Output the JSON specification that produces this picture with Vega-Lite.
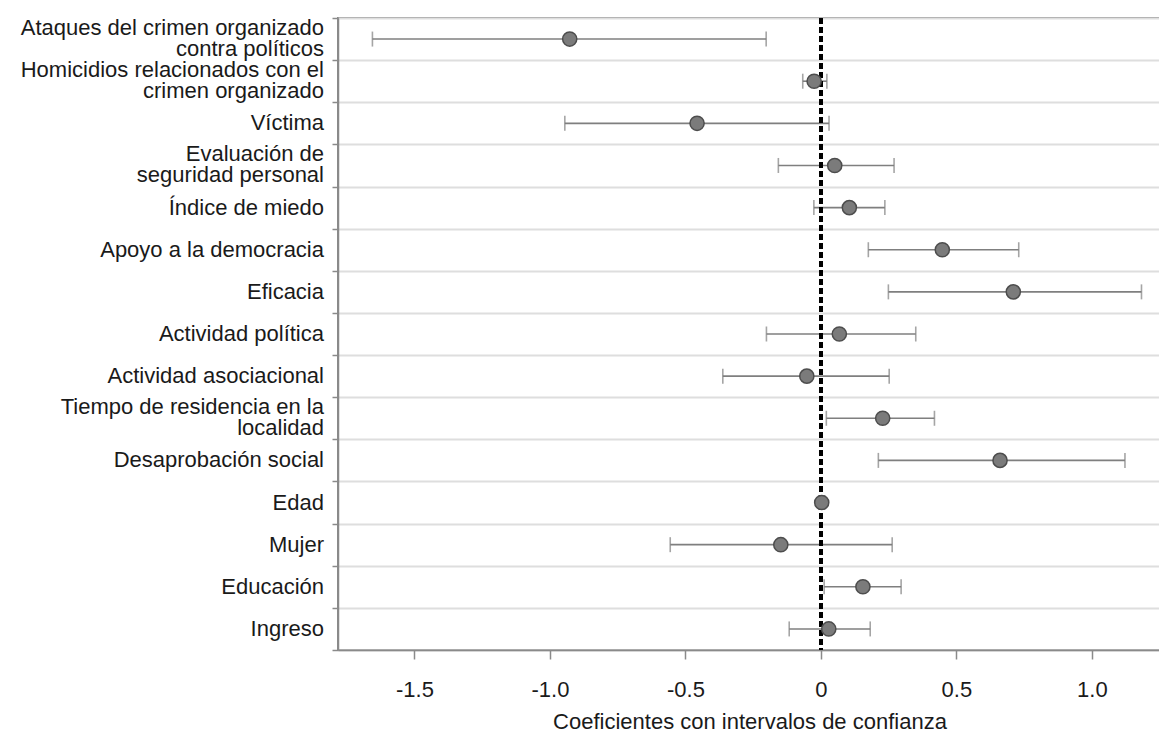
{
  "$schema": "https://vega.github.io/schema/vega-lite/v6.json",
  "autosize": {"type": "none"},
  "padding": {"left": 338, "top": 18, "right": 0, "bottom": 91},
  "width": 823,
  "height": 632,
  "background": "white",
  "config": {
    "view": {"stroke": "#8a8a8a", "strokeWidth": 2},
    "font": "Liberation Sans",
    "axis": {
      "labelFont": "Liberation Sans",
      "titleFont": "Liberation Sans",
      "labelFontSize": 22,
      "titleFontSize": 22,
      "labelColor": "#1a1a1a",
      "titleColor": "#1a1a1a",
      "titleFontWeight": "normal",
      "domainColor": "#8a8a8a",
      "tickColor": "#8a8a8a"
    }
  },
  "data": {
    "values": [
      {"variable": "Ataques del crimen organizado|contra políticos", "coef": -0.927, "lo": -1.655, "hi": -0.202},
      {"variable": "Homicidios relacionados con el|crimen organizado", "coef": -0.025, "lo": -0.067, "hi": 0.022},
      {"variable": "Víctima", "coef": -0.457, "lo": -0.945, "hi": 0.030},
      {"variable": "Evaluación de|seguridad personal", "coef": 0.051, "lo": -0.157, "hi": 0.270},
      {"variable": "Índice de miedo", "coef": 0.105, "lo": -0.026, "hi": 0.236},
      {"variable": "Apoyo a la democracia", "coef": 0.448, "lo": 0.175, "hi": 0.730},
      {"variable": "Eficacia", "coef": 0.710, "lo": 0.249, "hi": 1.183},
      {"variable": "Actividad política", "coef": 0.068, "lo": -0.201, "hi": 0.350},
      {"variable": "Actividad asociacional", "coef": -0.052, "lo": -0.362, "hi": 0.252},
      {"variable": "Tiempo de residencia en la|localidad", "coef": 0.228, "lo": 0.020, "hi": 0.419},
      {"variable": "Desaprobación social", "coef": 0.661, "lo": 0.212, "hi": 1.122},
      {"variable": "Edad", "coef": 0.003, "lo": -0.008, "hi": 0.014},
      {"variable": "Mujer", "coef": -0.148, "lo": -0.556, "hi": 0.263},
      {"variable": "Educación", "coef": 0.155, "lo": 0.012, "hi": 0.296},
      {"variable": "Ingreso", "coef": 0.029, "lo": -0.117, "hi": 0.182}
    ]
  },
  "layer": [
    {
      "mark": {"type": "rule", "color": "#7f7f7f", "strokeWidth": 1.6},
      "encoding": {
        "y": {
          "field": "variable",
          "type": "nominal",
          "sort": null,
          "scale": {
            "domain": [
              "Ataques del crimen organizado|contra políticos",
              "Homicidios relacionados con el|crimen organizado",
              "Víctima",
              "Evaluación de|seguridad personal",
              "Índice de miedo",
              "Apoyo a la democracia",
              "Eficacia",
              "Actividad política",
              "Actividad asociacional",
              "Tiempo de residencia en la|localidad",
              "Desaprobación social",
              "Edad",
              "Mujer",
              "Educación",
              "Ingreso"
            ],
            "paddingInner": 0,
            "paddingOuter": 0
          },
          "axis": {
            "title": null,
            "labels": false,
            "tickBand": "extent",
            "grid": true,
            "gridColor": "#dedede",
            "gridWidth": 2,
            "tickSize": 6,
            "tickWidth": 1.5,
            "domainWidth": 1.5
          }
        },
        "x": {
          "field": "lo",
          "type": "quantitative",
          "scale": {"domain": [-1.782, 1.255], "nice": false, "zero": false},
          "axis": {
            "values": [-1.5, -1, -0.5, 0, 0.5, 1],
            "labelExpr": "datum.value == 0 ? '0' : replace(format(datum.value, '.1f'), '\u2212', '-')",
            "grid": false,
            "tickSize": 9,
            "tickWidth": 1.5,
            "domainWidth": 1.5,
            "labelPadding": 20,
            "titlePadding": 11,
            "title": "Coeficientes con intervalos de confianza"
          }
        },
        "x2": {"field": "hi"}
      }
    },
    {
      "mark": {"type": "tick", "color": "#7f7f7f", "thickness": 1.6, "size": 15, "orient": "vertical"},
      "encoding": {
        "y": {"field": "variable", "type": "nominal", "sort": null},
        "x": {"field": "lo", "type": "quantitative"}
      }
    },
    {
      "mark": {"type": "tick", "color": "#7f7f7f", "thickness": 1.6, "size": 15, "orient": "vertical"},
      "encoding": {
        "y": {"field": "variable", "type": "nominal", "sort": null},
        "x": {"field": "hi", "type": "quantitative"}
      }
    },
    {
      "mark": {"type": "rule", "color": "black", "strokeWidth": 3, "strokeDash": [6, 3]},
      "encoding": {
        "x": {"datum": 0, "type": "quantitative"}
      }
    },
    {
      "mark": {"type": "circle", "size": 200, "fill": "#7b7b7b", "stroke": "#4d4d4d", "strokeWidth": 1.5, "opacity": 1},
      "encoding": {
        "y": {"field": "variable", "type": "nominal", "sort": null},
        "x": {"field": "coef", "type": "quantitative"}
      }
    },
    {
      "transform": [{"filter": "indexof(datum.variable, '|') < 0"}],
      "mark": {"type": "text", "align": "right", "baseline": "middle", "dx": -14, "fontSize": 22, "color": "#1a1a1a", "font": "Liberation Sans"},
      "encoding": {
        "y": {"field": "variable", "type": "nominal", "sort": null},
        "x": {"datum": -1.782, "type": "quantitative"},
        "text": {"field": "variable"}
      }
    },
    {
      "transform": [{"filter": "indexof(datum.variable, '|') >= 0"}],
      "mark": {"type": "text", "align": "right", "baseline": "middle", "dx": -14, "dy": -11, "lineBreak": "|", "lineHeight": 21, "fontSize": 22, "color": "#1a1a1a", "font": "Liberation Sans"},
      "encoding": {
        "y": {"field": "variable", "type": "nominal", "sort": null},
        "x": {"datum": -1.782, "type": "quantitative"},
        "text": {"field": "variable"}
      }
    }
  ]
}
